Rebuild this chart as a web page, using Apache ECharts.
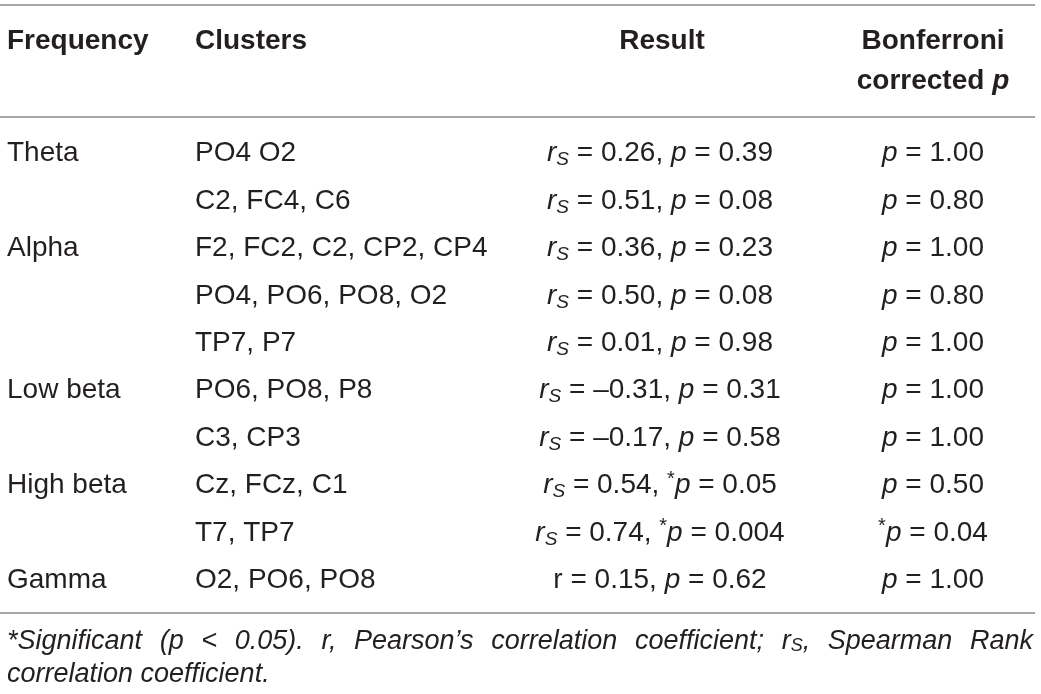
<!DOCTYPE html>
<html>
<head>
<meta charset="utf-8">
<script src="https://cdn.jsdelivr.net/npm/echarts@6/dist/echarts.min.js"></script>
<style>
  html, body { margin: 0; padding: 0; background: #fff; }
  #main { width: 1041px; height: 694px; }
</style>
</head>
<body>
<div id="main"></div>
<script>
// table data
const frequencies = ['Theta', '', 'Alpha', '', '', 'Low beta', '', 'High beta', '', 'Gamma'];
const clusters = [
  'PO4 O2',
  'C2, FC4, C6',
  'F2, FC2, C2, CP2, CP4',
  'PO4, PO6, PO8, O2',
  'TP7, P7',
  'PO6, PO8, P8',
  'C3, CP3',
  'Cz, FCz, C1',
  'T7, TP7',
  'O2, PO6, PO8'
];
const coefType = ['rs', 'rs', 'rs', 'rs', 'rs', 'rs', 'rs', 'rs', 'rs', 'r'];
const coefValues = ['0.26', '0.51', '0.36', '0.50', '0.01', '–0.31', '–0.17', '0.54', '0.74', '0.15'];
const pValues = ['0.39', '0.08', '0.23', '0.08', '0.98', '0.31', '0.58', '0.05', '0.004', '0.62'];
const pSignificant = [false, false, false, false, false, false, false, true, true, false];
const correctedP = ['1.00', '0.80', '1.00', '0.80', '1.00', '1.00', '1.00', '0.50', '0.04', '1.00'];
const correctedSignificant = [false, false, false, false, false, false, false, false, true, false];
const headers = ['Frequency', 'Clusters', 'Result', 'Bonferroni'];
// footnote words, [text, subscript?] pieces
const footLine1 = [
  [['*Significant', 0]], [['(p', 0]], [['<', 0]], [['0.05).', 0]], [['r,', 0]],
  [['Pearson’s', 0]], [['correlation', 0]], [['coefficient;', 0]],
  [['r', 0], ['S', 1], [',', 0]], [['Spearman', 0]], [['Rank', 0]]
];
const footLine2 = 'correlation coefficient.';

const FONT = '"Liberation Sans", Arial, Helvetica, sans-serif';
const INK = '#231f20';
const RULE = '#8a8a8a';
const FOOT_SIZE = 27;
const FOOT_SUB = 18;

const rowIds = clusters.map((c, i) => String(i));

// rich text pieces
const richStyles = {
  i: { fontStyle: 'italic', fontSize: 28, fontFamily: FONT, color: INK, lineHeight: 32 },
  sub: { fontStyle: 'italic', fontSize: 19, fontFamily: FONT, color: INK, lineHeight: 12, verticalAlign: 'bottom' },
  st: { fontSize: 20, fontFamily: FONT, color: INK, lineHeight: 32, verticalAlign: 'top' }
};

function pPart(sig) {
  return (sig ? '{st|*}' : '') + '{i|p}';
}

const resultText = coefValues.map((v, i) => {
  const coef = coefType[i] === 'rs' ? '{i|r}{sub|S}' : 'r';
  return coef + ' = ' + v + ', ' + pPart(pSignificant[i]) + ' = ' + pValues[i];
});
const correctedText = correctedP.map((v, i) => pPart(correctedSignificant[i]) + ' = ' + v);

// column anchors (x in px along hidden value axis)
const colX = { freq: 7, clusters: 195, result: 660, corrected: 933 };

function cellSeries(x, texts, align) {
  return {
    type: 'scatter',
    symbolSize: 0,
    silent: true,
    itemStyle: { opacity: 1 },
    data: texts.map((t, i) => [x, rowIds[i]]),
    label: {
      show: true,
      position: 'inside',
      align: align,
      verticalAlign: 'middle',
      fontFamily: FONT,
      fontSize: 28,
      color: INK,
      lineHeight: 32,
      formatter: p => texts[p.dataIndex],
      rich: richStyles
    }
  };
}

const chart = echarts.init(document.getElementById('main'), null, { renderer: 'canvas' });

const headStyle = { fontFamily: FONT, fontSize: 28, fontWeight: 'bold', fill: INK };

function rule(y) {
  return {
    type: 'line',
    shape: { x1: 0, y1: y, x2: 1035, y2: y },
    style: { stroke: RULE, lineWidth: 1.5 }
  };
}

// justify the first footnote line between x=7 and x=1033
const measureCtx = document.createElement('canvas').getContext('2d');
function pieceWidth(piece) {
  measureCtx.font = 'italic ' + (piece[1] ? FOOT_SUB : FOOT_SIZE) + 'px ' + FONT;
  return measureCtx.measureText(piece[0]).width;
}
const wordWidths = footLine1.map(w => w.reduce((s, pc) => s + pieceWidth(pc), 0));
const gap = (1026 - wordWidths.reduce((a, b) => a + b, 0)) / (footLine1.length - 1);
const footRich = {
  fs: { fontFamily: FONT, fontSize: FOOT_SUB, fontStyle: 'italic', fill: INK, lineHeight: 10, verticalAlign: 'bottom' }
};
const footGraphics = [];
let fx = 7;
footLine1.forEach((w, k) => {
  footGraphics.push({
    type: 'text', x: fx, y: 641,
    style: {
      text: w.map(pc => pc[1] ? '{fs|' + pc[0] + '}' : pc[0]).join(''),
      fontFamily: FONT, fontSize: FOOT_SIZE, fontStyle: 'italic', fill: INK, verticalAlign: 'middle',
      rich: footRich
    }
  });
  fx += wordWidths[k] + gap;
});
footGraphics.push({
  type: 'text', x: 7, y: 674,
  style: { text: footLine2, fontFamily: FONT, fontSize: FOOT_SIZE, fontStyle: 'italic', fill: INK, verticalAlign: 'middle' }
});

chart.setOption({
  animation: false,
  grid: { left: 0, right: 0, top: 130, bottom: 90 },
  xAxis: { type: 'value', min: 0, max: 1041, show: false },
  yAxis: { type: 'category', data: rowIds, inverse: true, show: false },
  series: [
    cellSeries(colX.freq, frequencies, 'left'),
    cellSeries(colX.clusters, clusters, 'left'),
    cellSeries(colX.result, resultText, 'center'),
    cellSeries(colX.corrected, correctedText, 'center')
  ],
  graphic: [
    rule(5),
    rule(117),
    rule(613),
    { type: 'text', x: colX.freq, y: 41, style: Object.assign({ text: headers[0], verticalAlign: 'middle' }, headStyle) },
    { type: 'text', x: colX.clusters, y: 41, style: Object.assign({ text: headers[1], verticalAlign: 'middle' }, headStyle) },
    { type: 'text', x: 662, y: 41, style: Object.assign({ text: headers[2], align: 'center', verticalAlign: 'middle' }, headStyle) },
    { type: 'text', x: 933, y: 41, style: Object.assign({ text: headers[3], align: 'center', verticalAlign: 'middle' }, headStyle) },
    {
      type: 'text', x: 933, y: 81,
      style: Object.assign({
        text: 'corrected {bi|p}', align: 'center', verticalAlign: 'middle',
        rich: { bi: { fontFamily: FONT, fontSize: 28, fontWeight: 'bold', fontStyle: 'italic', fill: INK } }
      }, headStyle)
    }
  ].concat(footGraphics)
});
</script>
</body>
</html>
